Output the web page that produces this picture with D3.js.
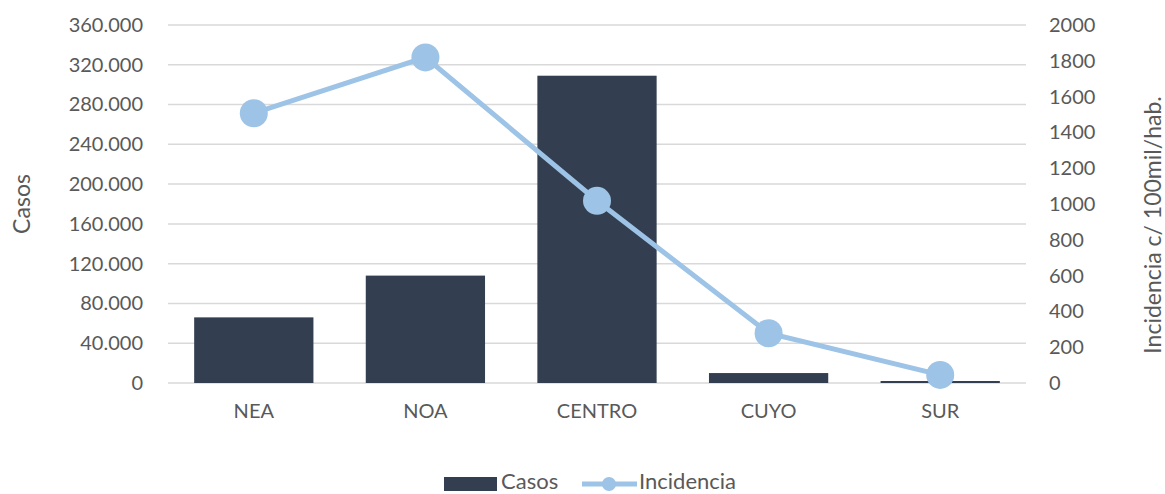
<!DOCTYPE html>
<html>
<head>
  <meta charset="utf-8">
  <title>Casos e Incidencia por region</title>
  <style>
    body { margin: 0; background: #fff; }
    text { font-family: Lato, "Open Sans", sans-serif; fill: #595959; }
    .grid line { stroke: #d9d9d9; stroke-width: 1.5; }
    .axis path, .axis line { display: none; }
  </style>
</head>
<body>
  <script src="https://cdn.jsdelivr.net/npm/d3@7"></script>
  <script>
    // data
    var regiones = ["NEA", "NOA", "CENTRO", "CUYO", "SUR"];
    var casos = [66000, 108000, 309000, 10000, 2000];
    var incidencia = [1507, 1819, 1018, 278, 45];
    var casosTicks = [0, 40000, 80000, 120000, 160000, 200000, 240000, 280000, 320000, 360000];
    var incTicks = [0, 200, 400, 600, 800, 1000, 1200, 1400, 1600, 1800, 2000];

    var width = 1165, height = 494;
    var margin = {top: 25, right: 139, bottom: 111, left: 168};
    var plotW = width - margin.left - margin.right;
    var plotH = height - margin.top - margin.bottom;

    var locale = d3.formatLocale({decimal: ",", thousands: ".", grouping: [3], currency: ["$", ""]});
    var fmt = locale.format(",d");

    var svg = d3.select("body").append("svg")
        .attr("width", width)
        .attr("height", height);

    var g = svg.append("g")
        .attr("transform", "translate(" + margin.left + "," + margin.top + ")");

    var x = d3.scaleBand().domain(regiones).range([0, plotW]).paddingInner(0.305).paddingOuter(0.1525);
    var y = d3.scaleLinear().domain([0, 360000]).range([plotH, 0]);
    var y2 = d3.scaleLinear().domain([0, 2000]).range([plotH, 0]);

    // gridlines
    g.append("g")
        .attr("class", "grid")
        .selectAll("line")
        .data(casosTicks)
        .enter()
        .append("line")
        .attr("x1", 0)
        .attr("x2", plotW)
        .attr("y1", function(d) { return y(d); })
        .attr("y2", function(d) { return y(d); });

    // left axis
    g.append("g")
        .attr("class", "axis")
        .attr("transform", "translate(-7,0)")
        .call(d3.axisLeft(y).tickValues(casosTicks).tickFormat(fmt).tickSize(0).tickPadding(18))
        .selectAll("text")
        .style("font-size", "20px");

    // right axis
    g.append("g")
        .attr("class", "axis")
        .attr("transform", "translate(" + (plotW + 5) + ",0)")
        .call(d3.axisRight(y2).tickValues(incTicks).tickFormat(d3.format("d")).tickSize(0).tickPadding(18))
        .selectAll("text")
        .style("font-size", "20px");

    // bars
    g.append("g")
        .selectAll("rect")
        .data(casos)
        .enter()
        .append("rect")
        .attr("x", function(d, i) { return x(regiones[i]); })
        .attr("y", function(d) { return y(d); })
        .attr("width", x.bandwidth())
        .attr("height", function(d) { return plotH - y(d); })
        .attr("fill", "#333f50");

    // x axis
    g.append("g")
        .attr("class", "axis")
        .attr("transform", "translate(0," + plotH + ")")
        .call(d3.axisBottom(x).tickSize(0).tickPadding(21))
        .selectAll("text")
        .style("font-size", "20px");

    // line
    var line = d3.line()
        .x(function(d, i) { return x(regiones[i]) + x.bandwidth() / 2; })
        .y(function(d) { return y2(d); });

    g.append("path")
        .datum(incidencia)
        .attr("d", line)
        .attr("fill", "none")
        .attr("stroke", "#9dc3e6")
        .attr("stroke-width", 5);

    g.append("g")
        .selectAll("circle")
        .data(incidencia)
        .enter()
        .append("circle")
        .attr("cx", function(d, i) { return x(regiones[i]) + x.bandwidth() / 2; })
        .attr("cy", function(d) { return y2(d); })
        .attr("r", 14)
        .attr("fill", "#9dc3e6");

    // axis titles
    svg.append("text")
        .attr("transform", "translate(30," + (margin.top + plotH / 2) + ") rotate(-90)")
        .attr("text-anchor", "middle")
        .style("font-size", "23px")
        .text("Casos");

    svg.append("text")
        .attr("transform", "translate(1161,225) rotate(-90)")
        .attr("text-anchor", "middle")
        .style("font-size", "23px")
        .text("Incidencia c/ 100mil/hab.");

    // legend
    var leg = svg.append("g");
    leg.append("rect")
        .attr("x", 444).attr("y", 477)
        .attr("width", 53).attr("height", 14)
        .attr("fill", "#333f50");
    leg.append("text")
        .attr("x", 501).attr("y", 489)
        .style("font-size", "22px")
        .text("Casos");
    leg.append("line")
        .attr("x1", 582).attr("x2", 637)
        .attr("y1", 484).attr("y2", 484)
        .attr("stroke", "#9dc3e6").attr("stroke-width", 5);
    leg.append("circle")
        .attr("cx", 609).attr("cy", 484).attr("r", 7)
        .attr("fill", "#9dc3e6");
    leg.append("text")
        .attr("x", 639).attr("y", 489)
        .style("font-size", "22px")
        .text("Incidencia");
  </script>
</body>
</html>
